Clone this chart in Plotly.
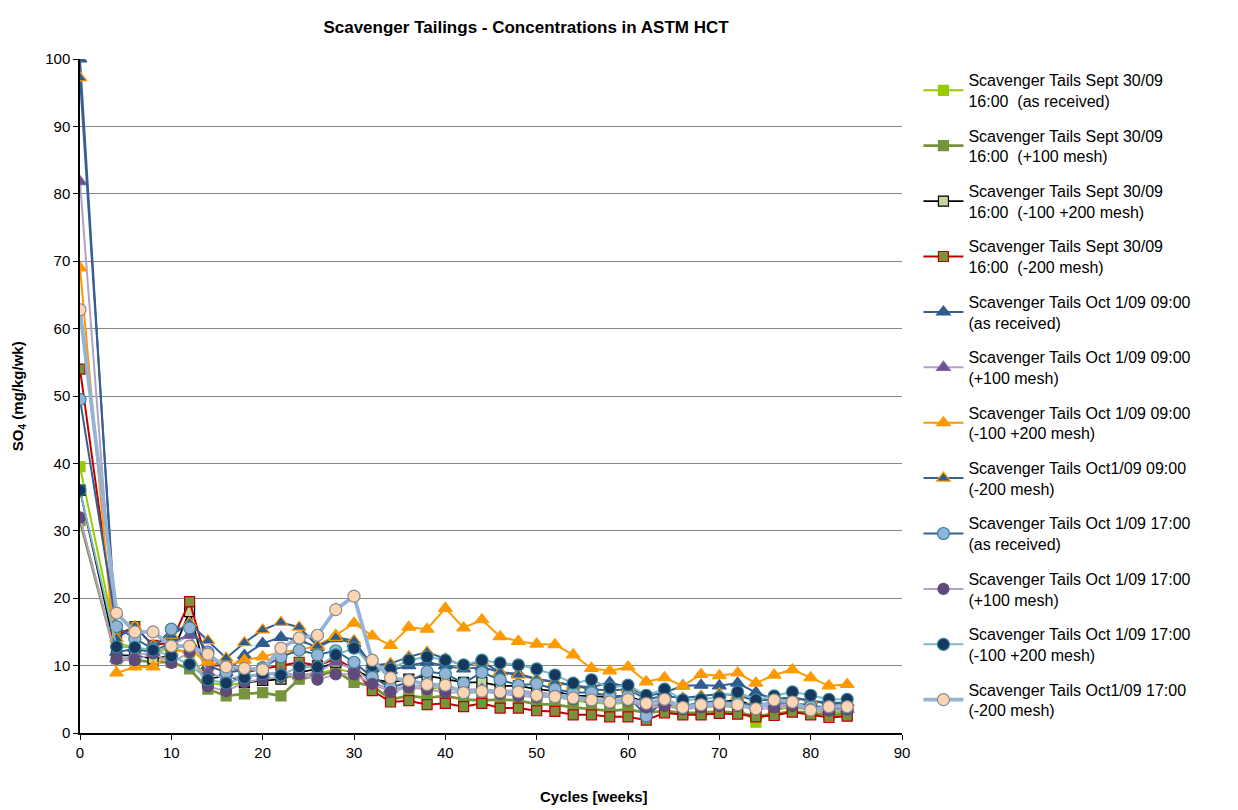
import plotly.graph_objects as go

# Cycle numbers (weeks)
cycles = [0, 4, 6, 8, 10, 12, 14, 16, 18, 20, 22, 24, 26, 28, 30, 32, 34, 36, 38, 40, 42,
          44, 46, 48, 50, 52, 54, 56, 58, 60, 62, 64, 66, 68, 70, 72, 74, 76, 78, 80, 82, 84]

# SO4 release (mg/kg/wk) per sample
sep30_as_received = [39.5, 13.5, 12.5, 12.0, 12.5, 12.0, 7.5, 7.0, 7.5, 7.8, 8.2, 8.5, 8.8, 9.5, 9.0, 8.5,
                     6.5, 6.8, 6.5, 6.8, 6.2, 6.0, 6.2, 6.0, 5.5, 5.5, 4.8, 4.5, 4.3, 4.5, 4.0, 4.2,
                     3.8, 3.8, 4.0, 3.8, 1.6, 3.5, 3.8, 3.5, 3.0, 3.2]
sep30_plus100 = [31.5, 11.0, 10.8, 10.5, 10.5, 9.5, 6.5, 5.5, 5.8, 6.0, 5.5, 8.0, 8.5, 9.2, 7.5, 7.0,
                 5.0, 5.5, 5.2, 5.5, 5.0, 4.8, 5.0, 4.8, 4.3, 4.2, 3.8, 3.5, 3.3, 3.5, 3.0, 3.3,
                 3.0, 3.0, 3.2, 3.0, 2.5, 2.8, 3.2, 3.0, 2.7, 2.8]
sep30_m100p200 = [36.0, 11.5, 11.5, 11.0, 11.5, 18.0, 8.0, 8.5, 7.5, 7.8, 8.0, 9.0, 9.5, 10.5, 9.5, 8.0,
                  7.5, 8.0, 8.5, 8.0, 7.5, 7.5, 7.0, 7.0, 6.5, 6.2, 5.5, 5.5, 5.3, 5.5, 4.5, 4.8,
                  4.0, 4.2, 4.5, 5.0, 3.8, 4.2, 4.0, 3.5, 3.5, 3.5]
sep30_m200 = [54.0, 14.5, 15.8, 13.0, 13.5, 19.5, 10.0, 10.0, 9.0, 9.5, 10.0, 10.5, 10.0, 11.0, 9.5, 6.3,
              4.6, 4.8, 4.2, 4.4, 3.9, 4.4, 3.7, 3.7, 3.3, 3.2, 2.7, 2.7, 2.4, 2.4, 1.9, 3.0,
              2.7, 2.7, 2.9, 2.8, 2.4, 2.6, 3.1, 2.7, 2.3, 2.5]
oct1_09_as_received = [100.0, 12.0, 12.5, 12.0, 13.5, 14.5, 10.0, 9.0, 11.5, 13.3, 14.2, 13.8, 12.7, 14.0, 13.3, 9.5,
                       9.3, 10.0, 10.5, 10.0, 9.5, 9.8, 9.0, 8.8, 8.0, 7.5, 7.0, 6.8, 7.5, 6.8, 5.5, 6.0,
                       7.0, 7.1, 7.0, 7.4, 6.0, 5.0, 5.3, 4.8, 4.5, 4.5]
oct1_09_plus100 = [81.8, 11.0, 11.5, 12.0, 13.0, 14.5, 9.0, 8.0, 8.5, 8.8, 9.0, 8.5, 9.0, 10.5, 9.5, 7.5,
                   6.5, 7.0, 7.0, 6.8, 6.5, 6.5, 6.3, 6.3, 6.0, 5.8, 5.5, 5.0, 5.0, 5.0, 4.0, 4.5,
                   4.0, 4.2, 4.5, 4.5, 4.0, 4.0, 4.3, 4.0, 3.5, 3.5]
oct1_09_m100p200 = [69.0, 8.9, 9.8, 9.8, 12.0, 12.3, 10.5, 10.0, 10.8, 11.3, 12.0, 12.3, 13.0, 14.5, 16.3, 14.4,
                    13.0, 15.7, 15.4, 18.5, 15.6, 16.8, 14.3, 13.6, 13.2, 13.1, 11.6, 9.6, 9.2, 9.8, 7.6, 8.2,
                    7.0, 8.7, 8.5, 8.9, 7.4, 8.6, 9.4, 8.2, 7.0, 7.2]
oct1_09_m200 = [97.2, 14.0, 15.8, 13.0, 14.5, 16.3, 13.7, 11.1, 13.4, 15.3, 16.4, 15.7, 12.9, 14.2, 13.7, 10.0,
                10.3, 11.3, 12.0, 11.0, 10.0, 10.6, 9.0, 8.6, 8.0, 7.6, 7.0, 6.5, 6.3, 6.5, 5.0, 5.5,
                5.2, 5.5, 5.8, 5.6, 4.8, 5.0, 5.2, 4.8, 4.3, 4.4]
oct1_17_as_received = [49.5, 15.8, 14.0, 12.5, 15.4, 15.6, 12.0, 9.0, 9.3, 9.7, 11.3, 12.3, 11.6, 12.2, 10.5, 8.3,
                       6.8, 7.5, 9.1, 8.8, 7.4, 9.0, 7.9, 7.1, 7.3, 6.5, 6.0, 6.0, 5.5, 5.5, 2.5, 4.8,
                       4.0, 4.5, 4.8, 4.5, 4.0, 4.5, 4.5, 4.0, 3.8, 3.5]
oct1_17_plus100 = [32.0, 11.0, 10.8, 11.8, 10.4, 12.0, 6.9, 6.2, 7.5, 8.0, 8.3, 8.7, 7.9, 8.7, 8.7, 7.3,
                   6.1, 6.8, 6.5, 6.0, 6.0, 6.2, 5.8, 5.5, 5.3, 5.5, 5.0, 4.8, 4.5, 4.8, 3.8, 4.0,
                   3.5, 3.8, 4.0, 4.0, 3.5, 3.8, 4.0, 3.5, 3.3, 3.5]
oct1_17_m100p200 = [36.0, 12.8, 12.7, 12.3, 11.4, 10.2, 7.9, 7.4, 8.2, 8.8, 8.6, 9.8, 9.8, 11.6, 12.6, 10.0,
                    9.5, 10.8, 11.3, 10.8, 10.1, 10.8, 10.4, 10.1, 9.5, 8.6, 7.4, 7.9, 6.7, 7.1, 5.6, 6.5,
                    4.9, 5.0, 5.3, 6.1, 4.9, 5.5, 6.1, 5.6, 5.0, 5.0]
oct1_17_m200 = [62.8, 17.8, 15.0, 15.0, 12.9, 12.9, 11.7, 9.8, 9.6, 9.4, 12.6, 14.1, 14.5, 18.3, 20.3, 10.8,
                8.2, 7.8, 7.2, 7.1, 6.0, 6.2, 6.1, 6.1, 5.6, 5.4, 5.2, 4.9, 4.6, 5.0, 4.4, 5.0,
                3.8, 4.2, 4.4, 4.2, 3.6, 4.9, 4.6, 3.4, 3.9, 3.9]

names = [
    "Scavenger Tails Sept 30/09<br>16:00  (as received)",
    "Scavenger Tails Sept 30/09<br>16:00  (+100 mesh)",
    "Scavenger Tails Sept 30/09<br>16:00  (-100 +200 mesh)",
    "Scavenger Tails Sept 30/09<br>16:00  (-200 mesh)",
    "Scavenger Tails Oct 1/09 09:00<br>(as received)",
    "Scavenger Tails Oct 1/09 09:00<br>(+100 mesh)",
    "Scavenger Tails Oct 1/09 09:00<br>(-100 +200 mesh)",
    "Scavenger Tails Oct1/09 09:00<br>(-200 mesh)",
    "Scavenger Tails Oct 1/09 17:00<br>(as received)",
    "Scavenger Tails Oct 1/09 17:00<br>(+100 mesh)",
    "Scavenger Tails Oct 1/09 17:00<br>(-100 +200 mesh)",
    "Scavenger Tails Oct1/09 17:00<br>(-200 mesh)",
]
values = [sep30_as_received, sep30_plus100, sep30_m100p200, sep30_m200,
          oct1_09_as_received, oct1_09_plus100, oct1_09_m100p200, oct1_09_m200,
          oct1_17_as_received, oct1_17_plus100, oct1_17_m100p200, oct1_17_m200]

# (line colour, line width, symbol, marker fill, marker edge, marker size)
styles = [
    ("#99CC00", 2.0, "square", "#99CC00", "#99CC00", 10),
    ("#77933C", 2.75, "square", "#77933C", "#77933C", 10),
    ("#000000", 1.75, "square", "#C3D69B", "#000000", 10),
    ("#C00000", 2.0, "square", "#77933C", "#C00000", 10),
    ("#376092", 2.0, "triangle-up", "#2F5C8F", "#2F5C8F", 12),
    ("#B3A2C7", 2.0, "triangle-up", "#6A5390", "#8064A2", 12),
    ("#FF9900", 2.0, "triangle-up", "#FF9900", "#FF9900", 12),
    ("#376092", 2.0, "triangle-up", "#2F5C8F", "#FF9900", 12),
    ("#376092", 2.0, "circle", "#95B3D7", "#31859C", 12),
    ("#B3A2C7", 2.0, "circle", "#604A7B", "#604A7B", 11),
    ("#7FB8C8", 2.0, "circle", "#17375E", "#31859C", 12),
    ("#95B3D7", 3.75, "circle", "#FCD5B5", "#8C8C8C", 12),
]

fig = go.Figure()
for i, (name, ys, st) in enumerate(zip(names, values, styles)):
    lc, lw, sym, fill, edge, size = st
    fig.add_trace(go.Scatter(
        x=cycles, y=ys, mode="lines+markers", name=name, legendgroup=f"g{i}",
        line=dict(color=lc, width=lw),
        marker=dict(symbol=sym, color=fill, size=size, line=dict(color=edge, width=1.2)),
    ))

# Canvas geometry: plot area spans x 80..902 and y 59..733 px
W, H = 1238, 810
m_l, m_r, m_t, m_b = 80, 336, 59, 20
paper_h = H - m_t - m_b
y_dom0 = (H - m_b - 733) / paper_h


def py(px):
    """Pixel row -> paper y fraction."""
    return (H - m_b - px) / paper_h


font_family = "Arial, Liberation Sans, sans-serif"
fig.update_layout(
    width=W, height=H,
    margin=dict(l=m_l, r=m_r, t=m_t, b=m_b),
    paper_bgcolor="white", plot_bgcolor="white",
    font=dict(family=font_family, size=15, color="black"),
    title=dict(text="<b>Scavenger Tailings - Concentrations in ASTM HCT</b>",
               x=0.4249, xanchor="center", y=0.967, yanchor="middle",
               font=dict(size=17, family=font_family)),
    showlegend=True,
    legend=dict(x=1.02, xanchor="left", y=py(63), yanchor="top",
                font=dict(size=16, family=font_family), tracegroupgap=10.8,
                bgcolor="rgba(0,0,0,0)", itemwidth=40),
    xaxis=dict(range=[0, 90], dtick=10, tick0=0, showgrid=False, zeroline=False,
               showline=True, linecolor="black", linewidth=1.5,
               ticks="outside", ticklen=5, tickcolor="black",
               tickfont=dict(size=15), anchor="y"),
    yaxis=dict(range=[0, 100], dtick=10, tick0=0, showgrid=True, gridcolor="#868686",
               gridwidth=1, zeroline=False, showline=True, linecolor="black", linewidth=1.5,
               ticks="outside", ticklen=5, tickcolor="black",
               tickfont=dict(size=15), domain=[y_dom0, 1]),
    annotations=[
        dict(text="<b>Cycles [weeks]</b>", xref="paper", yref="paper",
             x=(594 - 80) / 822, y=py(796), xanchor="center", yanchor="middle",
             showarrow=False, font=dict(size=15)),
        dict(text="<b>SO<sub>4</sub> (mg/kg/wk)</b>", xref="paper", yref="paper",
             x=-0.075, y=py(396), xanchor="center", yanchor="middle", textangle=-90,
             showarrow=False, font=dict(size=15)),
    ],
)

fig.write_html("out.html")
